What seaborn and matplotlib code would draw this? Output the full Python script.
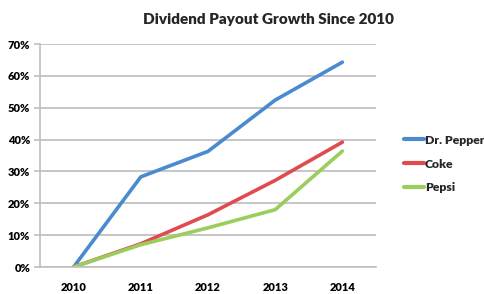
import matplotlib
matplotlib.use("Agg")
import matplotlib.pyplot as plt
import seaborn as sns
import pandas as pd
from matplotlib.ticker import FixedLocator, PercentFormatter

years = ["2010", "2011", "2012", "2013", "2014"]
dr_pepper = [0.0, 28.3, 36.3, 52.4, 64.3]
coke = [0.0, 7.3, 16.4, 27.2, 39.2]
pepsi = [0.0, 7.0, 12.3, 18.0, 36.4]
series_names = ["Dr. Pepper", "Coke", "Pepsi"]
colors = ["#4A8BD0", "#E04B4F", "#9ACD5C"]

rows = []
for name, vals in zip(series_names, [dr_pepper, coke, pepsi]):
    for i, (y, v) in enumerate(zip(years, vals)):
        rows.append({"pos": i, "year": y, "value": v, "series": name})
df = pd.DataFrame(rows)

sns.set_theme(style="white")
plt.rcParams['font.family'] = ['Lato', 'DejaVu Sans']

fig = plt.figure(figsize=(4.85, 2.94), dpi=100)
ax = fig.add_axes([40/485, 1-267/294, (376-40)/485, (267-44)/294])

sns.lineplot(data=df, x="pos", y="value", hue="series", palette=colors,
             hue_order=series_names, linewidth=2.6, ax=ax, legend=True)

ax.set_xlim(-0.5, 4.5)
ax.set_ylim(0, 70)
ax.set_yticks(range(0, 71, 10))
ax.yaxis.set_major_formatter(PercentFormatter(decimals=0))
ax.set_xticks(range(len(years)))
ax.set_xticklabels(years)
ax.xaxis.set_minor_locator(FixedLocator([-0.5, 0.5, 1.5, 2.5, 3.5, 4.5]))
ax.tick_params(axis="x", which="major", length=0, pad=11)
ax.tick_params(axis="x", which="minor", length=4, color="#BFBFBF", width=1.2, direction="out")
ax.tick_params(axis="y", length=4, color="#BFBFBF", width=1.2, direction="out", pad=3, left=True)
for lab in ax.get_xticklabels() + ax.get_yticklabels():
    lab.set_fontweight("heavy")
    lab.set_fontsize(8)
    lab.set_color("black")

ax.grid(axis="y", color="#C6C6C6", linewidth=1.4)
ax.set_axisbelow(True)
for s in ["top", "right"]:
    ax.spines[s].set_visible(False)
for s in ["left", "bottom"]:
    ax.spines[s].set_color("#BFBFBF")
    ax.spines[s].set_linewidth(1.2)
ax.set_xlabel("")
ax.set_ylabel("")

leg = ax.legend(loc="center left", bbox_to_anchor=(393/485, 1-164/294),
                bbox_transform=fig.transFigure, frameon=False,
                handlelength=1.6, handletextpad=0.1, labelspacing=1.05,
                prop={"weight": "heavy", "size": 8.8})
for line in leg.get_lines():
    line.set_linewidth(3)

fig.text(268/485, 1-20/294, "Dividend Payout Growth Since 2010", ha="center", va="center",
         fontsize=11, fontweight="heavy")

fig.savefig("out.png", dpi=100)
